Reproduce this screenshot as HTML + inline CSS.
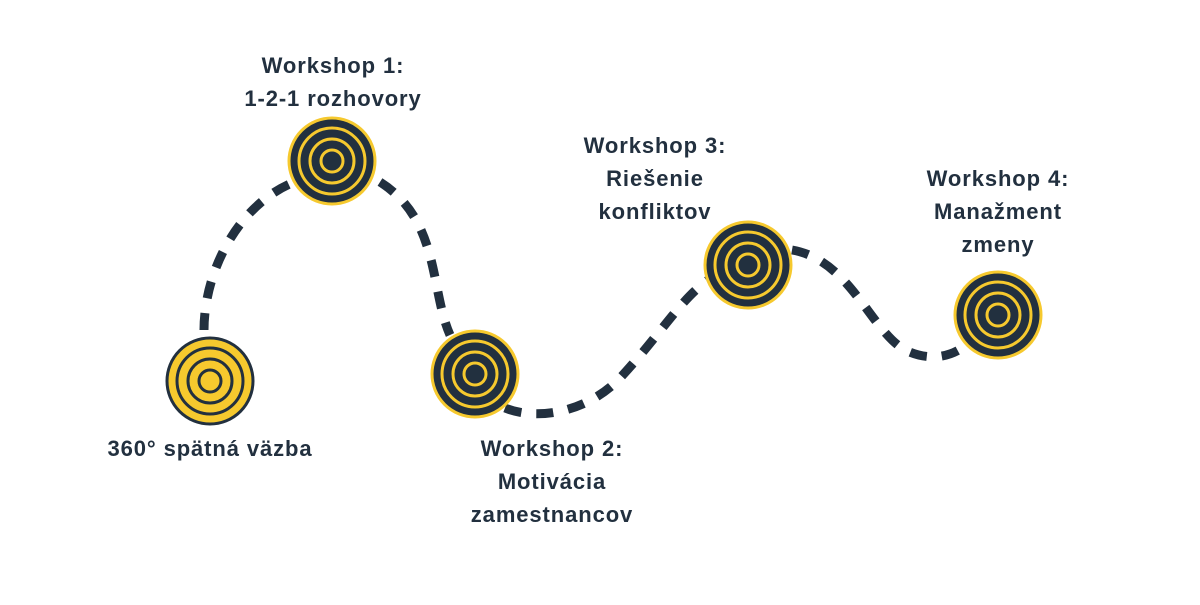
<!DOCTYPE html>
<html><head><style>
body{margin:0;background:#fff;width:1200px;height:600px;overflow:hidden}
svg text{font-family:"Liberation Sans",sans-serif;font-weight:bold;font-size:22px;letter-spacing:0.9px;fill:#22303f;text-anchor:middle}
</style></head><body>
<svg width="1200" height="600" viewBox="0 0 1200 600">
<defs>
<g id="d"><circle r="43" fill="#22303f" stroke="#f6c92e" stroke-width="3"/><g fill="none" stroke="#f6c92e" stroke-width="3"><circle r="33"/><circle r="22"/><circle r="11"/></g></g>
<g id="y"><circle r="43" fill="#f6c92e" stroke="#22303f" stroke-width="3"/><g fill="none" stroke="#22303f" stroke-width="3"><circle r="33"/><circle r="22"/><circle r="11"/></g></g>
</defs>
<g fill="none" stroke="#22303f" stroke-width="9" stroke-dasharray="17 15">
<path d="M204,330 C204,270 240,200 300,180"/>
<path d="M380,182 C440,220 430,290 450,335"/>
<path d="M505,408 C540,422 590,410 620,378 C660,335 680,300 708,280"/>
<path d="M792,250 C850,260 870,330 905,350 C930,362 950,356 962,348"/>
</g>
<use href="#y" x="210" y="381"/>
<use href="#d" x="332" y="161"/>
<use href="#d" x="475" y="374"/>
<use href="#d" x="748" y="265"/>
<use href="#d" x="998" y="315"/>
<text x="333" y="73">Workshop 1:</text>
<text x="333" y="106">1-2-1 rozhovory</text>
<text x="210" y="456">360° spätná väzba</text>
<text x="552" y="456">Workshop 2:</text>
<text x="552" y="489">Motivácia</text>
<text x="552" y="522">zamestnancov</text>
<text x="655" y="153">Workshop 3:</text>
<text x="655" y="186">Riešenie</text>
<text x="655" y="219">konfliktov</text>
<text x="998" y="186">Workshop 4:</text>
<text x="998" y="219">Manažment</text>
<text x="998" y="252">zmeny</text>
</svg>
</body></html>
